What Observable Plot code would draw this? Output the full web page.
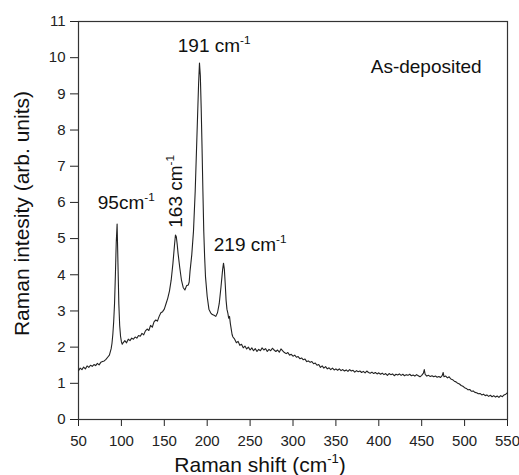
<!DOCTYPE html>
<html><head><meta charset="utf-8">
<script src="https://cdn.jsdelivr.net/npm/d3@7"></script>
<script src="https://cdn.jsdelivr.net/npm/@observablehq/plot@0.6"></script>
<style>body{margin:0;background:#fff;}</style>
</head><body><div id="chart"></div>
<script>
const shift = [50,52,54,56,58,60,62,64,66,68,70,72,74,76,78,80,82,84,86,88,89,90,91,92,93,94,95,96,97,98,99,100,101,102,104,106,108,110,112,114,116,118,120,122,124,126,128,130,132,134,136,138,140,142,144,146,148,150,152,154,156,158,160,162,163,164,165,166,168,170,172,174,176,178,179,180,182,184,186,188,190,191,192,193,194,195,196,197,198,200,202,204,206,208,210,212,214,216,218,219,220,221,222,223,224,225,226,227,228,229,230,232,234,236,238,240,242,244,246,248,250,252,254,256,258,260,262,264,266,268,270,272,274,276,278,280,282,284,286,288,290,292,294,296,298,300,302,304,306,308,310,312,314,316,318,320,322,324,326,328,330,332,334,336,338,340,342,344,346,348,350,352,354,356,358,360,362,364,366,368,370,372,374,376,378,380,382,384,386,388,390,392,394,396,398,400,402,404,406,408,410,412,414,416,418,420,422,424,426,428,430,432,434,436,438,440,442,444,446,448,450,452,453,454,456,458,460,462,464,466,468,470,472,474,475,476,478,480,482,484,486,488,490,492,494,496,498,500,502,504,506,508,510,512,514,516,518,520,522,524,526,528,530,532,534,536,538,540,542,544,546,548,550];
const intensity = [1.35,1.42,1.38,1.45,1.40,1.48,1.44,1.50,1.47,1.52,1.49,1.55,1.51,1.58,1.60,1.62,1.66,1.72,1.78,1.95,2.1,2.35,2.7,3.2,4.0,4.9,5.4,4.3,3.2,2.6,2.3,2.15,2.08,2.12,2.18,2.12,2.22,2.18,2.25,2.22,2.28,2.25,2.32,2.30,2.38,2.34,2.45,2.50,2.46,2.60,2.55,2.70,2.75,2.72,2.85,2.95,2.98,3.05,3.20,3.35,3.55,3.85,4.30,4.85,5.10,5.05,4.85,4.60,4.20,3.85,3.65,3.58,3.70,3.72,3.80,4.10,4.55,5.20,6.30,7.80,9.30,9.85,9.50,8.60,7.50,6.30,5.20,4.50,3.95,3.40,3.05,2.95,2.90,2.88,2.85,2.95,3.20,3.65,4.15,4.32,4.15,3.75,3.30,3.05,2.95,2.80,2.85,2.65,2.50,2.35,2.28,2.22,2.12,2.16,2.05,2.08,1.98,2.03,1.95,2.00,1.92,1.98,1.90,1.96,1.88,1.94,1.90,1.98,1.92,1.96,1.88,1.94,1.90,1.97,1.92,1.88,1.92,1.86,1.95,1.90,1.85,1.82,1.85,1.78,1.80,1.75,1.78,1.72,1.74,1.68,1.70,1.65,1.67,1.60,1.62,1.58,1.60,1.54,1.56,1.50,1.52,1.44,1.48,1.42,1.46,1.40,1.43,1.38,1.42,1.37,1.40,1.36,1.40,1.35,1.38,1.34,1.37,1.33,1.38,1.34,1.36,1.31,1.35,1.32,1.34,1.30,1.33,1.29,1.34,1.30,1.28,1.31,1.27,1.30,1.26,1.29,1.25,1.28,1.24,1.27,1.22,1.27,1.24,1.26,1.21,1.25,1.23,1.26,1.22,1.25,1.21,1.24,1.22,1.25,1.21,1.23,1.20,1.24,1.21,1.18,1.22,1.28,1.38,1.25,1.20,1.22,1.19,1.21,1.18,1.20,1.17,1.19,1.16,1.22,1.30,1.18,1.20,1.15,1.18,1.12,1.10,1.06,1.04,1.00,0.98,0.94,0.92,0.88,0.86,0.82,0.83,0.78,0.79,0.75,0.74,0.71,0.72,0.68,0.70,0.66,0.68,0.64,0.67,0.63,0.66,0.62,0.65,0.61,0.66,0.63,0.68,0.70,0.74];
const xTicks = [50,100,150,200,250,300,350,400,450,500,550];
const yTicks = [0,1,2,3,4,5,6,7,8,9,10,11];
const xLabel = "Raman shift (cm^-1)";
const yLabel = "Raman intesity (arb. units)";
const annText = ["95cm^-1","191 cm^-1","219 cm^-1","163 cm^-1","As-deposited"];
const annX = [72.5,165.7,207.7,163.4,390.6];
const annY = [5.98,10.32,4.83,5.30,9.74];
const annRotate = [0,0,0,-90,0];

const data = shift.map((x,i)=>({x, y:intensity[i]}));
const ann = annText.map((t,i)=>({text:t, x:annX[i], y:annY[i], rotate:annRotate[i]}));

const chart = Plot.plot({
  width:519, height:475,
  marginLeft:78, marginRight:12, marginTop:21, marginBottom:56,
  style:{fontFamily:"'Liberation Sans', Arial, sans-serif", fontSize:"15px", color:"#222", background:"#fff"},
  x:{domain:[50,550]},
  y:{domain:[0,11]},
  marks:[
    Plot.axisX({ticks:xTicks, tickSize:7, tickPadding:9, label:null}),
    Plot.axisY({ticks:yTicks, tickSize:8, tickPadding:5, label:null}),
    Plot.frame({stroke:"#333", strokeWidth:1.2}),
    Plot.line(data,{x:"x", y:"y", stroke:"#222", strokeWidth:1.1}),
    Plot.text(ann,{x:"x", y:"y", text:"text", rotate:"rotate", textAnchor:"start", lineAnchor:"middle", fontSize:19, fill:"#111"}),
    Plot.text([xLabel],{frameAnchor:"bottom", text:d=>d, textAnchor:"middle", lineAnchor:"middle", dy:46, dx:-33, fontSize:21, fill:"#111"}),
    Plot.text([yLabel],{frameAnchor:"left", text:d=>d, textAnchor:"middle", lineAnchor:"middle", rotate:-90, dx:-56, dy:-7, fontSize:21, fill:"#111"})
  ]
});
document.getElementById("chart").append(chart);

d3.select(chart).selectAll("text").each(function(){
  const t = this.textContent;
  if (!t.includes("^-1")) return;
  const parts = t.split("^-1");
  const fs = parseFloat(getComputedStyle(this).fontSize) || 19;
  const shiftUp = fs*0.42;
  const sel = d3.select(this);
  sel.text(null);
  sel.append("tspan").text(parts[0]);
  sel.append("tspan").attr("dy", -shiftUp).attr("font-size", (fs*0.62)+"px").text("-1");
  if (parts[1]) sel.append("tspan").attr("dy", shiftUp).text(parts[1]);
});
</script>
</body></html>
